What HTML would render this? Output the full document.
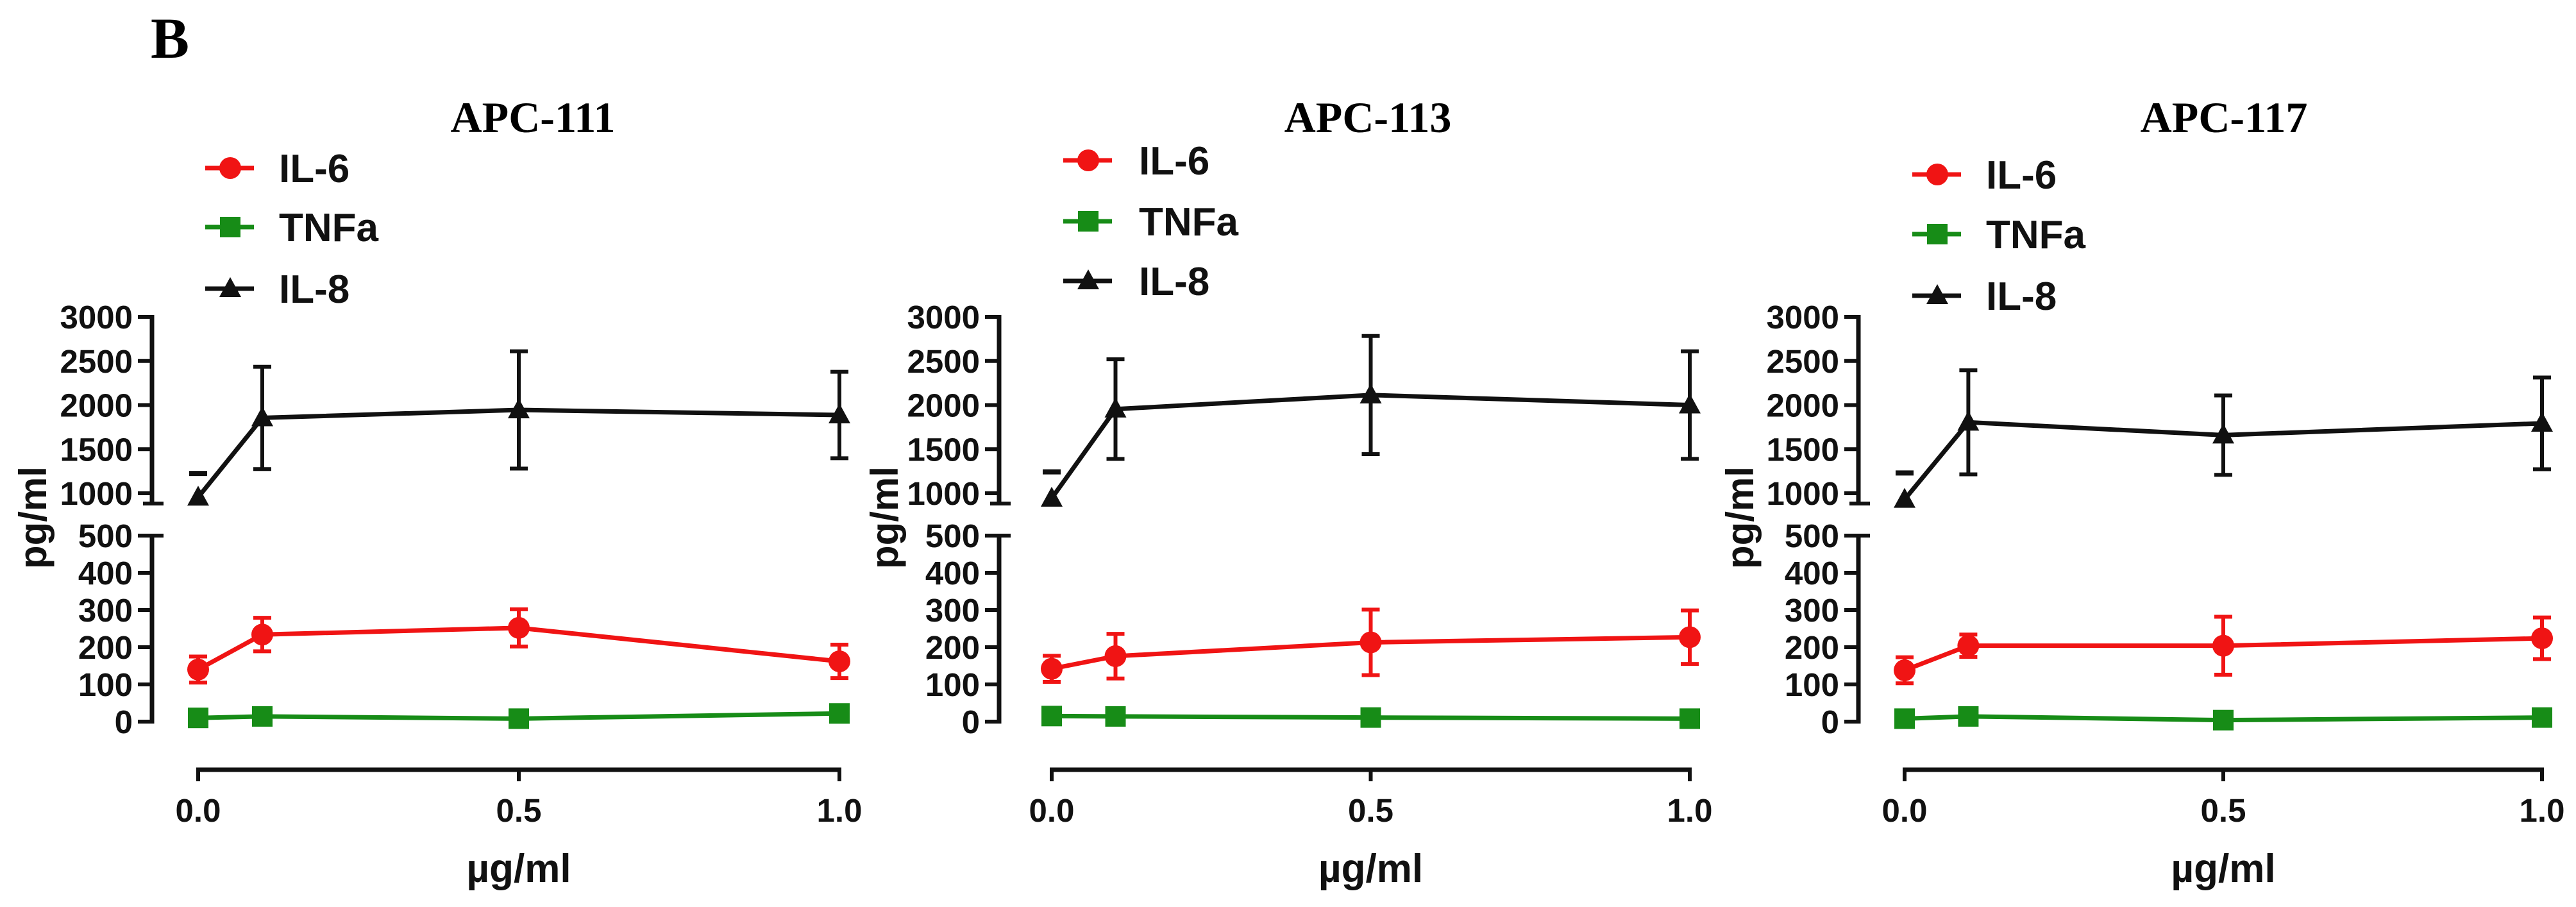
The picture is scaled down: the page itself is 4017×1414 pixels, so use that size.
<!DOCTYPE html>
<html><head><meta charset="utf-8"><style>
html,body{margin:0;padding:0;background:#fff;}
svg{display:block;}
.t{font-family:"Liberation Sans",sans-serif;font-weight:bold;fill:#111;}
.s{font-family:"Liberation Serif",serif;font-weight:bold;fill:#000;}
</style></head><body>
<svg id="fig" width="4017" height="1414" viewBox="0 0 4017 1414" xmlns="http://www.w3.org/2000/svg">
<text class="s" x="265" y="90" font-size="90" text-anchor="middle">B</text>
</svg>
<script>
const panelTitles = ["APC-111", "APC-113", "APC-117"];
const xValues = [0, 0.1, 0.5, 1.0];
const xTicks = [0, 0.5, 1.0];
const xTickLabels = ["0.0", "0.5", "1.0"];
const upperTicks = [1000, 1500, 2000, 2500, 3000];
const lowerTicks = [0, 100, 200, 300, 400, 500];
const seriesNames = ["IL-6", "TNFa", "IL-8"];
// APC-111
const il6_111 = [140, 234, 252, 162];
const il6Err_111 = [35, 45, 50, 45];
const tnf_111 = [10, 14, 8, 22];
const il8_111 = [955, 1855, 1945, 1887];
const il8Err_111 = [270, 580, 665, 490];
// APC-113
const il6_113 = [142, 176, 213, 227];
const il6Err_113 = [35, 60, 88, 72];
const tnf_113 = [15, 14, 11, 8];
const il8_113 = [943, 1954, 2114, 2000];
const il8Err_113 = [300, 565, 670, 610];
// APC-117
const il6_117 = [138, 204, 204, 224];
const il6Err_117 = [35, 30, 78, 56];
const tnf_117 = [8, 14, 4, 11];
const il8_117 = [930, 1805, 1659, 1793];
const il8Err_117 = [300, 590, 450, 520];

const panels = [
  {ax:237, x0:309, x1:1309, title:831, leg:{lx:320, tx:435, y:[262,354,450]}, ylab:52, il6:il6_111, il6e:il6Err_111, tnf:tnf_111, il8:il8_111, il8e:il8Err_111},
  {ax:1558, x0:1640, x1:2635, title:2133, leg:{lx:1658, tx:1776, y:[250,345,438]}, ylab:1380, il6:il6_113, il6e:il6Err_113, tnf:tnf_113, il8:il8_113, il8e:il8Err_113},
  {ax:2898, x0:2970, x1:3964, title:3468, leg:{lx:2982, tx:3097, y:[272,365,461]}, ylab:2714, il6:il6_117, il6e:il6Err_117, tnf:tnf_117, il8:il8_117, il8e:il8Err_117}
];
const RED="#f01414", GREEN="#178c17", BLACK="#111";
const svg=document.getElementById('fig');
const NS="http://www.w3.org/2000/svg";
function mk(tag, attrs, parent){const e=document.createElementNS(NS,tag);for(const k in attrs)e.setAttribute(k,attrs[k]);(parent||svg).appendChild(e);return e;}
function yU(v){return 769-(v-1000)*0.1375;}
function yL(v){return 1125-v*0.58;}

function marker(g,type,x,y,color){
  let m;
  if(type==="circle") m=mk('circle',{cx:x,cy:y,r:17,fill:color},g);
  else if(type==="square") m=mk('rect',{x:x-16,y:y-16,width:32,height:32,fill:color},g);
  else m=mk('polygon',{points:`${x},${y-18} ${x-17},${y+13} ${x+17},${y+13}`,fill:color},g);
  return m;
}

panels.forEach((p,pi)=>{
  const g=mk('g',{});
  
  
  const xs=v=>p.x0+(p.x1-p.x0)*v;
  const t=mk('text',{class:'s',x:p.title,y:206,'font-size':68,'text-anchor':'middle'},g);
  t.textContent=panelTitles[pi];
  
  
  const types=["circle","square","triangle"], cols=[RED,GREEN,BLACK];
  seriesNames.forEach((n,i)=>{
    const lg=mk('g',{},g);
    
    
    const y=p.leg.y[i];
    mk('line',{x1:p.leg.lx,y1:y,x2:p.leg.lx+76,y2:y,stroke:cols[i],'stroke-width':7},lg);
    marker(lg,types[i],p.leg.lx+39,y,cols[i]);
    const tt=mk('text',{class:'t',x:p.leg.tx,y:y+22,'font-size':62},lg);
    tt.textContent=n;
  });
  const ax=p.ax;
  const ya=mk('g',{},g);
  
  
  mk('line',{x1:ax,y1:yU(3000)-3,x2:ax,y2:785,stroke:BLACK,'stroke-width':7},ya);
  mk('line',{x1:ax-14,y1:785,x2:ax+18,y2:785,stroke:BLACK,'stroke-width':6},ya);
  mk('line',{x1:ax,y1:yL(500),x2:ax,y2:yL(0)+3,stroke:BLACK,'stroke-width':7},ya);
  mk('line',{x1:ax-14,y1:yL(500),x2:ax+18,y2:yL(500),stroke:BLACK,'stroke-width':6},ya);
  upperTicks.forEach(v=>{
    mk('line',{x1:ax-22,y1:yU(v),x2:ax,y2:yU(v),stroke:BLACK,'stroke-width':6},ya);
    const l=mk('text',{class:'t',x:ax-30,y:yU(v)+18,'font-size':51,'text-anchor':'end'},ya);
    l.textContent=v;
  });
  lowerTicks.forEach(v=>{
    mk('line',{x1:ax-22,y1:yL(v),x2:ax,y2:yL(v),stroke:BLACK,'stroke-width':6},ya);
    const l=mk('text',{class:'t',x:ax-30,y:yL(v)+18,'font-size':51,'text-anchor':'end'},ya);
    l.textContent=v;
  });
  const yl=mk('text',{class:'t',x:0,y:0,'font-size':60,'text-anchor':'middle',transform:`translate(${p.ylab+20},807) rotate(-90)`},g);
  yl.textContent="pg/ml";
  
  
  const xa=mk('g',{},g);
  
  
  mk('line',{x1:xs(0)-3,y1:1200,x2:xs(1)+3,y2:1200,stroke:BLACK,'stroke-width':7},xa);
  xTicks.forEach((v,i)=>{
    mk('line',{x1:xs(v),y1:1200,x2:xs(v),y2:1218,stroke:BLACK,'stroke-width':6},xa);
    const l=mk('text',{class:'t',x:xs(v),y:1281,'font-size':51,'text-anchor':'middle'},xa);
    l.textContent=xTickLabels[i];
  });
  const xl=mk('text',{class:'t',x:(xs(0)+xs(1))/2,y:1375,'font-size':62,'text-anchor':'middle'},g);
  xl.textContent="µg/ml";
  
  
  function series(name,vals,errs,yf,color,type,capOnlyFirst){
    const sg=mk('g',{},g);
    
    
    const pts=vals.map((v,i)=>xs(xValues[i])+','+yf(v)).join(' ');
    mk('polyline',{points:pts,fill:'none',stroke:color,'stroke-width':7},sg);
    vals.forEach((v,i)=>{
      const x=xs(xValues[i]);
      if(errs){
        const top=yf(v+errs[i]), bot=yf(v-errs[i]);
        if(capOnlyFirst && i===0){
          mk('line',{x1:x-14,y1:top,x2:x+14,y2:top,stroke:color,'stroke-width':8},sg);
        } else {
          mk('line',{x1:x,y1:top,x2:x,y2:bot,stroke:color,'stroke-width':6},sg);
          mk('line',{x1:x-14,y1:top,x2:x+14,y2:top,stroke:color,'stroke-width':6},sg);
          mk('line',{x1:x-14,y1:bot,x2:x+14,y2:bot,stroke:color,'stroke-width':6},sg);
        }
      }
      const m=marker(sg,type,x,yf(v),color);
      
      
    });
  }
  series('il-8',p.il8,p.il8e,yU,BLACK,'triangle',true);
  series('il-6',p.il6,p.il6e,yL,RED,'circle',false);
  series('tnfa',p.tnf,null,yL,GREEN,'square',false);
});
</script>
</body></html>
